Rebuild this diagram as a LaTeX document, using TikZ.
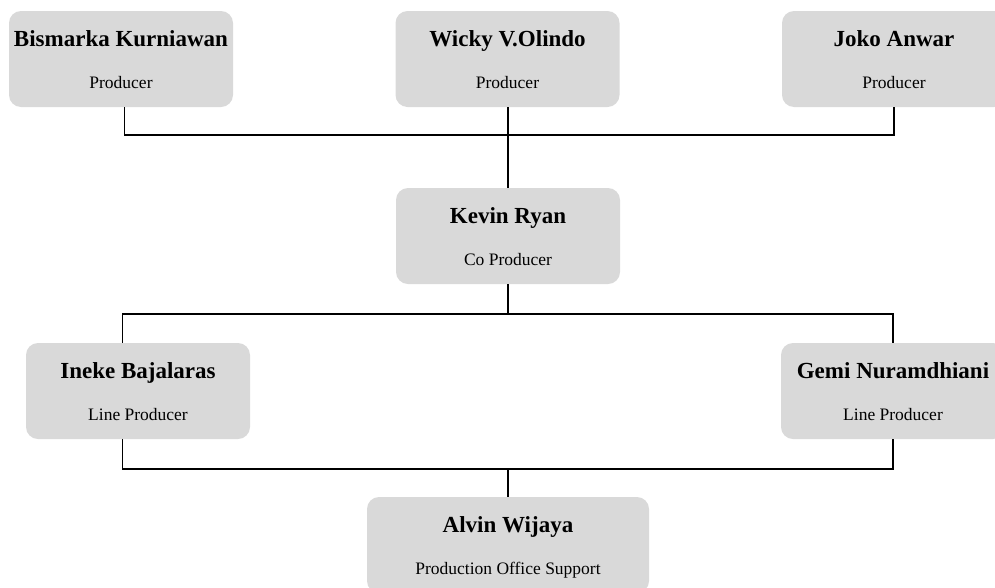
\documentclass[tikz,border=0pt]{standalone}
\usepackage{fontspec}
\setmainfont{Liberation Serif}
\tikzset{
  box/.style={draw=none, fill=boxgray, rounded corners=12pt, minimum width=224pt, minimum height=96pt, inner sep=0pt},
  wbox/.style={box, minimum width=282pt},
  namet/.style={anchor=base, inner sep=0pt, font=\fontsize{23}{26}\selectfont\bfseries},
  rolet/.style={anchor=base, inner sep=0pt, font=\fontsize{17.5}{20}\selectfont},
  conn/.style={line width=1.8pt, line join=miter, black}
}
\definecolor{boxgray}{HTML}{D9D9D9}
\begin{document}
\begin{tikzpicture}[x=1pt,y=-1pt]
\useasboundingbox (0,0) rectangle (995,587);
\clip (0,0) rectangle (995,587);
% boxes
\node[box] (bism) at (121,59) {};
\node[box] (wicky) at (507.5,59) {};
\node[box] (joko) at (894,59) {};
\node[box] (kevin) at (508,236) {};
\node[box] (ineke) at (138,391) {};
\node[box] (gemi) at (893,391) {};
\node[wbox] (alvin) at (508,545) {};
% texts
\foreach \b/\n/\r in {bism/Bismarka Kurniawan/Producer, wicky/Wicky V.Olindo/Producer, joko/Joko Anwar/Producer, kevin/Kevin Ryan/Co Producer, ineke/Ineke Bajalaras/Line Producer, gemi/Gemi Nuramdhiani/Line Producer, alvin/Alvin Wijaya/Production Office Support}{
  \node[namet] (\b-n) at ([yshift=-36pt]\b.north) {\n};
  \node[rolet] (\b-r) at ([yshift=-78pt]\b.north) {\r};
}
% junctions
\coordinate (t1) at (124.5,135);
\coordinate (t2) at (508,135);
\coordinate (t3) at (894,135);
\coordinate (m1) at (122.5,314);
\coordinate (m2) at (508,314);
\coordinate (m3) at (893,314);
\coordinate (b1) at (122.5,469);
\coordinate (b2) at (508,469);
\coordinate (b3) at (893,469);
% connectors
\draw[conn] (bism.south -| t1) -- (t1) -- (t3) -- (joko.south -| t3);
\draw[conn] (wicky.south -| t2) -- (kevin.north -| t2);
\draw[conn] (kevin.south -| m2) -- (m2);
\draw[conn] (ineke.north -| m1) -- (m1) -- (m3) -- (gemi.north -| m3);
\draw[conn] (ineke.south -| b1) -- (b1) -- (b3) -- (gemi.south -| b3);
\draw[conn] (b2) -- (alvin.north -| b2);
\end{tikzpicture}
\end{document}
